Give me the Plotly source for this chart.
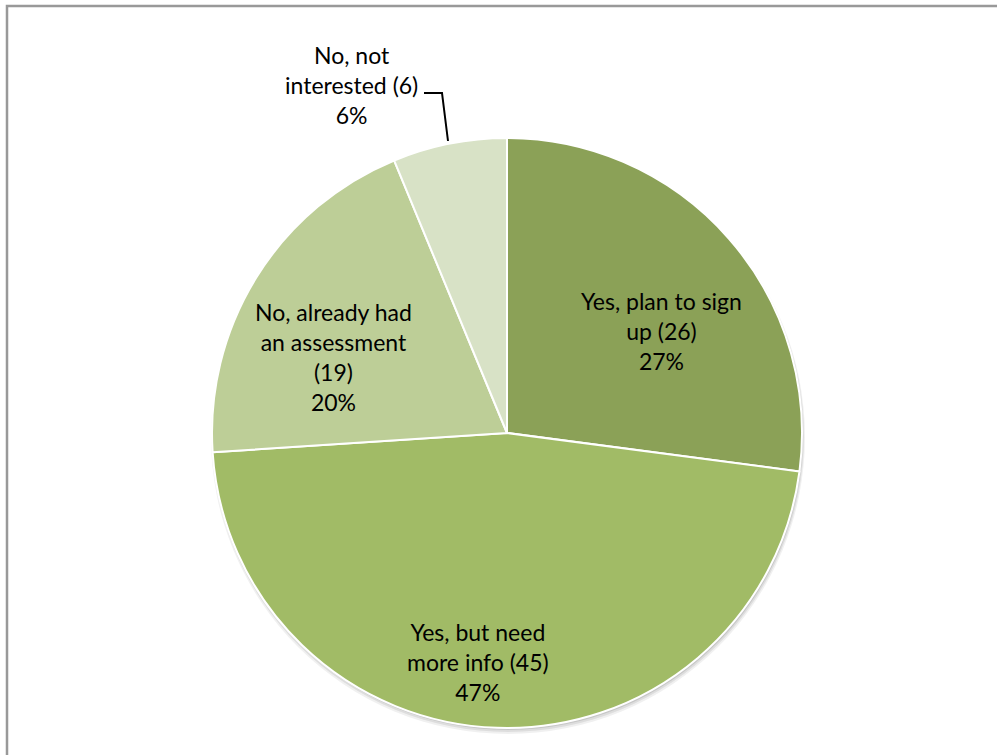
import plotly.graph_objects as go

# Survey responses
labels = ["Yes, plan to sign up", "Yes, but need more info",
          "No, already had an assessment", "No, not interested"]
counts = [26, 45, 19, 6]
colors = ["#8BA157", "#A1BB66", "#BDCE97", "#D8E2C6"]

# Label text split into display lines (count appended to the last name line)
label_lines = [
    ["Yes, plan to sign", "up"],
    ["Yes, but need", "more info"],
    ["No, already had", "an assessment", ""],
    ["No, not", "interested"],
]

W, H = 997, 755
cx, cy, r = 507, 433, 295

total = sum(counts)


def px(x):
    return x / W


def py(y):
    return 1 - y / H


def pie_domain(dx=0, dy=0, rr=r):
    return dict(x=[px(cx + dx - rr), px(cx + dx + rr)],
                y=[py(cy + dy + rr), py(cy + dy - rr)])


fig = go.Figure()

# soft drop shadow under the pie
for dy, rr, alpha in [(4, r + 2, 0.06), (3, r + 1, 0.08), (2, r, 0.10)]:
    fig.add_trace(go.Pie(
        values=[1], sort=False, textinfo="none", hoverinfo="skip",
        marker=dict(colors=[f"rgba(0,0,0,{alpha})"], line=dict(width=0)),
        showlegend=False, domain=pie_domain(1, dy, rr),
    ))

fig.add_trace(go.Pie(
    labels=labels,
    values=counts,
    sort=False,
    direction="clockwise",
    rotation=0,
    marker=dict(colors=colors, line=dict(color="white", width=2)),
    textinfo="none",
    hoverinfo="label+value+percent",
    showlegend=False,
    domain=pie_domain(),
))

# label anchor positions (pixel centres of each text block)
label_pos = [(661, 331), (478, 662), (333, 357), (351, 85)]

for lines, n, (lx, ly) in zip(label_lines, counts, label_pos):
    pct = round(100 * n / total)
    body = list(lines)
    if body[-1] == "":
        body[-1] = f"({n})"
    else:
        body[-1] = f"{body[-1]} ({n})"
    text = "<br>".join(body + [f"{pct}%"])
    fig.add_annotation(
        x=px(lx), y=py(ly), xref="paper", yref="paper",
        text=text, showarrow=False, align="center",
        xanchor="center", yanchor="middle",
        font=dict(family="Lato, Carlito, Calibri, sans-serif", size=23, color="#000000"),
    )

# leader line for the small slice
fig.add_shape(
    type="path", xref="paper", yref="paper",
    path=f"M {px(424)} {py(93)} L {px(442)} {py(93)} L {px(448)} {py(141)}",
    line=dict(color="#000000", width=2),
)

# chart area frame
fig.add_shape(
    type="rect", xref="paper", yref="paper",
    x0=px(7), y0=py(770), x1=px(1010), y1=py(6),
    line=dict(color="#999999", width=2.5), fillcolor="rgba(0,0,0,0)",
)

fig.update_layout(
    width=W, height=H,
    margin=dict(l=0, r=0, t=0, b=0),
    paper_bgcolor="white", plot_bgcolor="white",
)

fig.write_html("out.html")
